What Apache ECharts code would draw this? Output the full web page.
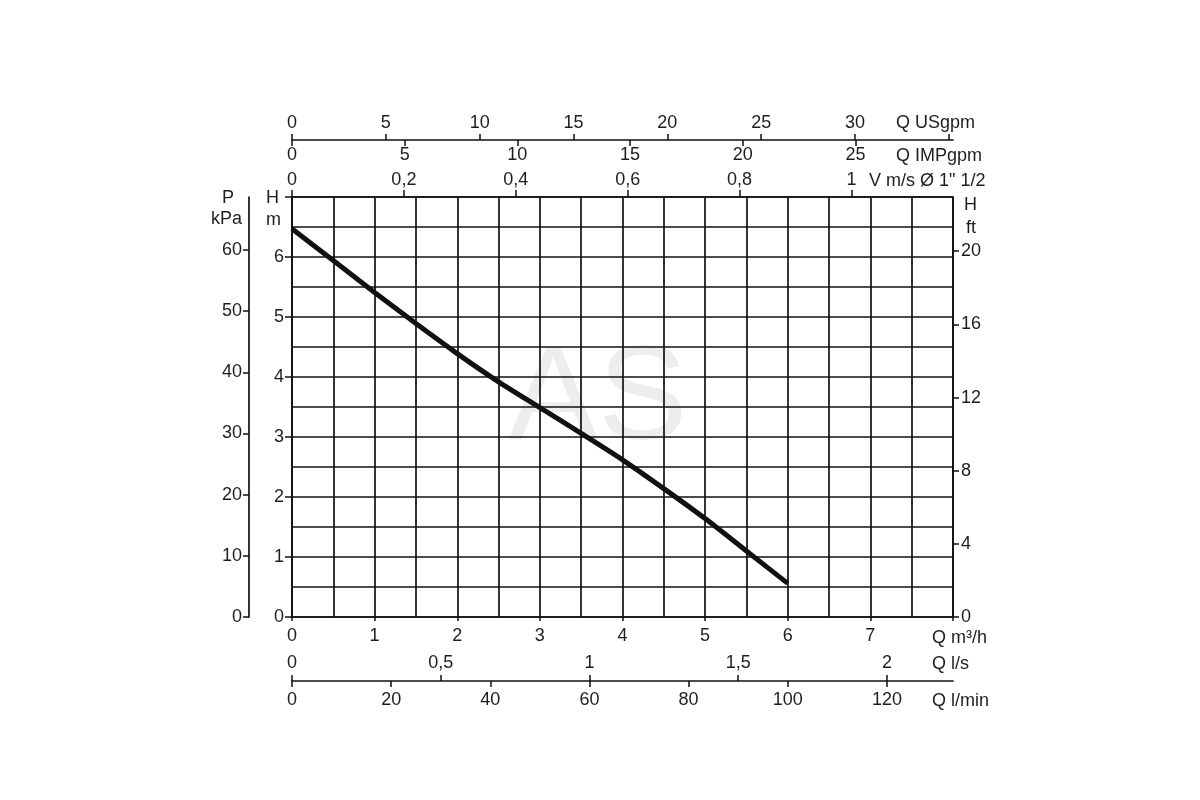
<!DOCTYPE html>
<html><head><meta charset="utf-8">
<script src="https://cdn.jsdelivr.net/npm/echarts@6/dist/echarts.min.js"></script>
<style>html,body{margin:0;padding:0;background:#fff}#c{width:1200px;height:800px}</style>
</head><body><div id="c"></div>
<script>
// ---- data ----
const flowM3h = [0, 0.5, 1, 1.5, 2, 2.5, 3, 3.5, 4, 4.5, 5, 5.5, 6];
const headM   = [6.47, 5.94, 5.41, 4.89, 4.39, 3.92, 3.49, 3.06, 2.62, 2.14, 1.64, 1.10, 0.56];

// ---- tick labels ----
const m3hTicks    = [0, 1, 2, 3, 4, 5, 6, 7];
const headTicks   = [0, 1, 2, 3, 4, 5, 6];
const usgpmTicks  = [0, 5, 10, 15, 20, 25, 30];
const usgpmMarks  = [0, 5, 10, 15, 20, 25, 30, 35];
const impgpmTicks = [0, 5, 10, 15, 20, 25];
const velTicks    = [0, 0.2, 0.4, 0.6, 0.8, 1];
const lsTicks     = [0, 0.5, 1, 1.5, 2];
const lminTicks   = [0, 20, 40, 60, 80, 100, 120];
const kpaTicks    = [0, 10, 20, 30, 40, 50, 60];
const ftTicks     = [0, 4, 8, 12, 16, 20];

// ---- unit conversions ----
const Q_MAX = 8, H_MAX = 7;
const USGPM_PER_M3H = 4.40287, IMPGPM_PER_M3H = 3.66615, MS_PER_M3H = 0.1477;
const LS_PER_M3H = 1 / 3.6, LMIN_PER_M3H = 1000 / 60;
const KPA_PER_M = 9.80665, FT_PER_M = 3.28084;

const FONT = "'Liberation Sans', Arial, sans-serif";
const FS = 18;
const TXT = '#1e1e1e';
const LINE = '#111';
const comma = v => String(Math.round(v * 100) / 100).replace('.', ',');
const lbl = (extra) => Object.assign({color: TXT, fontFamily: FONT, fontSize: FS}, extra);

const chart = echarts.init(document.getElementById('c'));
const grid = {left: 292, right: 247, top: 197, bottom: 183};

function secondaryX(pos, max, offset, ticks, marks, inside, tickLen, margin, fmt, showLine) {
  return {
    type: 'value', position: pos, min: 0, max: max, offset: offset,
    axisLine: {show: showLine, onZero: false, lineStyle: {color: LINE, width: 1.7}},
    axisTick: {show: true, inside: inside, length: tickLen, customValues: marks, lineStyle: {color: LINE, width: 1.5}},
    axisLabel: lbl({inside: inside, margin: margin, customValues: ticks, formatter: fmt || (v => String(v))}),
    splitLine: {show: false}
  };
}

const option = {
  backgroundColor: '#fff',
  animation: false,
  grid: grid,
  xAxis: [
    { // main Q m3/h
      type: 'value', position: 'bottom', min: 0, max: Q_MAX, interval: 1,
      axisLine: {show: true, onZero: false, lineStyle: {color: LINE, width: 1.7}},
      axisTick: {show: true, length: 4, lineStyle: {color: LINE, width: 1.5}},
      axisLabel: lbl({margin: 10, formatter: v => (m3hTicks.indexOf(v) >= 0 ? String(v) : '')}),
      splitLine: {show: true, lineStyle: {color: LINE, width: 1.7}},
      minorTick: {show: false, splitNumber: 2},
      minorSplitLine: {show: true, lineStyle: {color: LINE, width: 1.7}}
    },
    secondaryX('top', Q_MAX * USGPM_PER_M3H, 57, usgpmTicks, usgpmMarks, false, 6, 8, null, true),
    secondaryX('top', Q_MAX * IMPGPM_PER_M3H, 57, impgpmTicks, impgpmTicks, true, 6, 6, null, false),
    secondaryX('top', Q_MAX * MS_PER_M3H, 0, velTicks, velTicks, false, 7, 8, comma, true),
    secondaryX('bottom', Q_MAX * LS_PER_M3H, 64, lsTicks, lsTicks, true, 6, 9, comma, true),
    secondaryX('bottom', Q_MAX * LMIN_PER_M3H, 64, lminTicks, lminTicks, false, 6, 10, null, false)
  ],
  yAxis: [
    { // main H m
      type: 'value', position: 'left', min: 0, max: H_MAX, interval: 1,
      axisLine: {show: true, onZero: false, lineStyle: {color: LINE, width: 1.7}},
      axisTick: {show: true, length: 7, lineStyle: {color: LINE, width: 1.5}},
      axisLabel: lbl({margin: 8, formatter: v => (headTicks.indexOf(v) >= 0 ? String(v) : '')}),
      splitLine: {show: true, lineStyle: {color: LINE, width: 1.7}},
      minorTick: {show: false, splitNumber: 2},
      minorSplitLine: {show: true, lineStyle: {color: LINE, width: 1.7}}
    },
    { // P kPa
      type: 'value', position: 'left', min: 0, max: H_MAX * KPA_PER_M, offset: 43,
      axisLine: {show: true, onZero: false, lineStyle: {color: LINE, width: 1.7}},
      axisTick: {show: true, length: 6, customValues: kpaTicks, lineStyle: {color: LINE, width: 1.5}},
      axisLabel: lbl({margin: 7, customValues: kpaTicks}),
      splitLine: {show: false}
    },
    { // H ft
      type: 'value', position: 'right', min: 0, max: H_MAX * FT_PER_M, offset: 0,
      axisLine: {show: true, onZero: false, lineStyle: {color: LINE, width: 1.7}},
      axisTick: {show: true, length: 6, customValues: ftTicks, lineStyle: {color: LINE, width: 1.5}},
      axisLabel: lbl({margin: 8, customValues: ftTicks}),
      splitLine: {show: false}
    }
  ],
  graphic: [
    {type: 'text', z: -100, x: 598, y: 402,
      style: {text: 'AS', font: "134px 'Liberation Sans', Arial, sans-serif", fill: '#ededed',
        align: 'center', verticalAlign: 'middle', textAlign: 'center', textVerticalAlign: 'middle'}},
    ...[
      ['Q USgpm', 896, 123], ['Q IMPgpm', 896, 156], ['V m/s Ø 1" 1/2', 869, 181],
      ['H', 964, 205], ['ft', 966, 228],
      ['P', 222, 198], ['kPa', 211, 219], ['H', 266, 198], ['m', 266, 220],
      ['Q m³/h', 932, 638], ['Q l/s', 932, 664], ['Q l/min', 932, 701]
    ].map(t => ({type: 'text', x: t[1], y: t[2], z: 10,
      style: {text: t[0], font: FS + "px 'Liberation Sans', Arial, sans-serif", fill: TXT,
        align: 'left', verticalAlign: 'middle', textAlign: 'left', textVerticalAlign: 'middle'}}))
  ],
  series: [{
    type: 'line', xAxisIndex: 0, yAxisIndex: 0,
    data: flowM3h.map((q, i) => [q, headM[i]]),
    smooth: 0.25, showSymbol: false, symbol: 'none', z: 10,
    lineStyle: {color: '#111', width: 5}
  }]
};
chart.setOption(option);
</script>
</body></html>
